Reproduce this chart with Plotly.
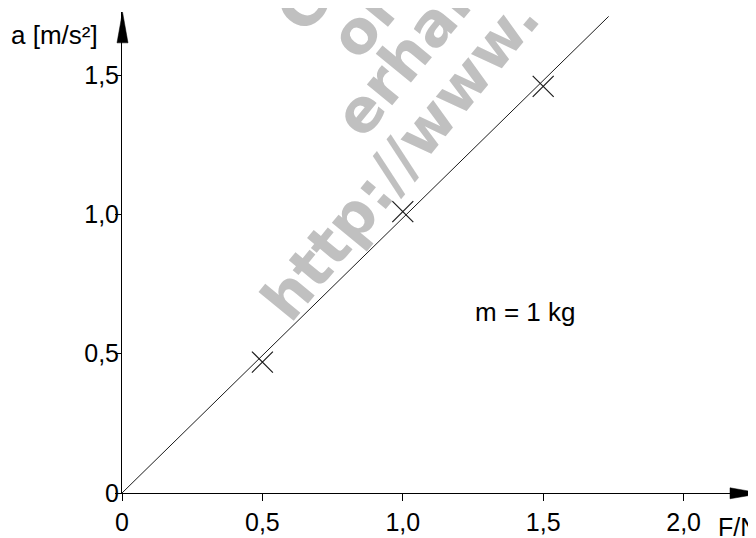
import math
import plotly.graph_objects as go

# ---- data ----
force_N = [0.5, 1.0, 1.5]
accel = [0.47, 1.01, 1.46]
fit_x = [0.0, 1.733]
fit_y = [0.0, 1.711]
x_tickvals = [0, 0.5, 1.0, 1.5, 2.0]
x_ticktext = ["0", "0,5", "1,0", "1,5", "2,0"]
y_tickvals = [0, 0.5, 1.0, 1.5]
y_ticktext = ["0", "0,5", "1,0", "1,5"]
watermark_lines = ["Copy", "or", "erhard", "http://www."]

# ---- geometry (page pixels; the page body has an 8px margin) ----
OFF = 8
W, H = 756 - OFF, 538 - OFF
L, R, T = 122 - OFF, 2, 12 - OFF
B = H - (495 - OFF)
PW, PH = W - L - R, H - T - B
PX_PER_X = 280.8
PX_PER_Y = 279.7


def px_x(px):
    return (px - OFF - L) / PW


def px_y(py):
    return (H - B - (py - OFF)) / PH


FONT = "Arial, Liberation Sans, sans-serif"

fig = go.Figure()
fig.add_trace(go.Scatter(x=fit_x, y=fit_y, mode="lines",
                         line=dict(color="#1a1a1a", width=1), showlegend=False,
                         hoverinfo="skip"))
fig.add_trace(go.Scatter(x=force_N, y=accel, mode="markers",
                         marker=dict(symbol="x-thin", size=21,
                                     line=dict(color="#1a1a1a", width=1.2)),
                         showlegend=False))

# watermark (light grey rotated text, DejaVu Sans Bold advance widths in em)
WM_ANG = 50.5
ang = math.radians(WM_ANG)
dx, dy = math.cos(ang), -math.sin(ang)
wm_size = 60
wm_em = {"Copy": 2.789, "or": 1.18, "erhard": 3.767, "http://www.": 6.665}
wm_first = {"Copy": ((302, 6), 0.367), "or": ((355, 33), 0.3435),
            "erhard": ((360, 112), 0.339), "http://www.": ((286, 297), 0.356)}
annotations = []
for t in watermark_lines:
    (gx, gy), gh = wm_first[t]
    sx, sy = gx - dx * gh * wm_size, gy - dy * gh * wm_size
    half = wm_em[t] * wm_size / 2
    cx, cy = sx + dx * half, sy + dy * half
    annotations.append(dict(xref="paper", yref="paper", x=px_x(cx), y=px_y(cy),
                            text=t, showarrow=False, textangle=-WM_ANG,
                            xanchor="center", yanchor="middle",
                            font=dict(family="DejaVu Sans", size=wm_size,
                                      color="#c0c0c0", weight="bold")))

annotations += [
    dict(xref="paper", yref="paper", x=px_x(10), y=px_y(35), text="a [m/s²]",
         showarrow=False, xanchor="left", yanchor="middle", borderpad=0,
         font=dict(family=FONT, size=26, color="black")),
    dict(xref="paper", yref="paper", x=px_x(717), y=px_y(529), text="F/N",
         showarrow=False, xanchor="left", yanchor="middle", borderpad=0,
         font=dict(family=FONT, size=25, color="black")),
    dict(xref="paper", yref="paper", x=px_x(474), y=px_y(313), text="m = 1 kg",
         showarrow=False, xanchor="left", yanchor="middle", borderpad=0,
         font=dict(family=FONT, size=26, color="black")),
]


# axis arrowheads (paper coords)
def tri(p1, p2, p3):
    return "M {} {} L {} {} L {} {} Z".format(px_x(p1[0]), px_y(p1[1]),
                                              px_x(p2[0]), px_y(p2[1]),
                                              px_x(p3[0]), px_y(p3[1]))


shapes = [
    dict(type="path", xref="paper", yref="paper",
         path=tri((122.5, 12), (117, 43), (128, 43)),
         fillcolor="black", line=dict(color="black", width=0.5)),
    dict(type="path", xref="paper", yref="paper",
         path=tri((762, 495.3), (730, 489.8), (730, 500.8)),
         fillcolor="black", line=dict(color="black", width=0.5)),
]

fig.update_layout(
    width=W, height=H, autosize=False,
    margin=dict(l=L, r=R, t=T, b=B, pad=0),
    paper_bgcolor="white", plot_bgcolor="white",
    font=dict(family=FONT, size=25, color="black"),
    annotations=annotations, shapes=shapes,
    xaxis=dict(range=[0, PW / PX_PER_X], tickvals=x_tickvals, ticktext=x_ticktext,
               showgrid=False, zeroline=False, showline=True, linecolor="black",
               linewidth=1, ticks="outside", ticklen=7, tickcolor="black",
               tickwidth=1, tickfont=dict(size=25), ticklabelstandoff=0),
    yaxis=dict(range=[0, PH / PX_PER_Y], tickvals=y_tickvals, ticktext=y_ticktext,
               showgrid=False, zeroline=False, showline=True, linecolor="black",
               linewidth=1, ticks="outside", ticklen=6, tickcolor="black",
               tickwidth=1, tickfont=dict(size=25)),
)
try:
    fig.update_yaxes(ticklabelstandoff=-9)
except ValueError:
    pass

fig.write_html("out.html")
